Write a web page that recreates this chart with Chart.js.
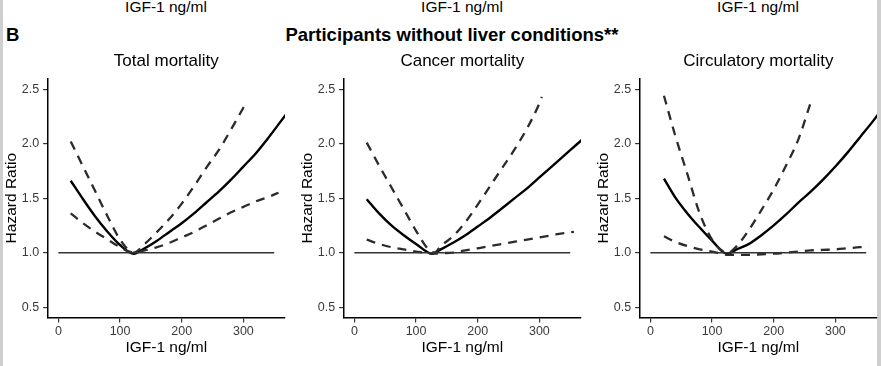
<!DOCTYPE html>
<html>
<head>
<meta charset="utf-8">
<script src="https://cdn.jsdelivr.net/npm/chart.js@4.4.1/dist/chart.umd.min.js"></script>
<style>
  body { margin: 0; background: #fff; }
  #wrap { position: relative; width: 881px; height: 366px; overflow: hidden; background: #fff;
          font-family: "Liberation Sans", Arial, sans-serif; }
  .edge { position: absolute; top: 0; height: 366px; background: #cfcfcf; }
  .lbl { position: absolute; white-space: nowrap; color: #000; }
  canvas { position: absolute; top: 0; }
</style>
</head>
<body>
<div id="wrap">
  <div class="edge" style="left:0;width:3px"></div>
  <div class="edge" style="left:877px;width:4px"></div>

  <!-- remnants of panel A's x axis titles -->
  <div class="lbl" style="left:66px;width:200px;top:-1px;text-align:center;font-size:15.5px;line-height:15.5px">IGF-1 ng/ml</div>
  <div class="lbl" style="left:362px;width:200px;top:-1px;text-align:center;font-size:15.5px;line-height:15.5px">IGF-1 ng/ml</div>
  <div class="lbl" style="left:658px;width:200px;top:-1px;text-align:center;font-size:15.5px;line-height:15.5px">IGF-1 ng/ml</div>

  <div class="lbl" style="left:6px;top:26px;font-size:18.5px;line-height:18.5px;font-weight:bold">B</div>
  <div class="lbl" style="left:252px;width:400px;top:26px;text-align:center;font-size:18.5px;line-height:18.5px;font-weight:bold">Participants without liver conditions**</div>

  <canvas id="c0" width="296" height="366" style="left:0px"></canvas>
  <canvas id="c1" width="296" height="366" style="left:296px"></canvas>
  <canvas id="c2" width="289" height="366" style="left:592px"></canvas>
</div>

<script>
// ---- data ----
const panelTitles = ['Total mortality', 'Cancer mortality', 'Circulatory mortality'];
const xTicks = [0, 100, 200, 300];
const yTicks = [0.5, 1.0, 1.5, 2.0, 2.5];

const refX = [0, 350];
const refHR = [1, 1];

// Total mortality
const totalX = [20, 40, 60, 80, 100, 122, 140, 160, 180, 200, 220, 240, 260, 280, 300, 320, 340, 360, 372];
const totalHR = [1.66, 1.49, 1.33, 1.19, 1.07, 0.99, 1.04, 1.11, 1.19, 1.27, 1.36, 1.46, 1.56, 1.67, 1.79, 1.91, 2.05, 2.20, 2.29];
const totalUpX = [20, 40, 60, 80, 100, 122, 140, 160, 180, 200, 220, 240, 260, 280, 300, 306];
const totalUp = [2.02, 1.79, 1.56, 1.33, 1.12, 1.0, 1.08, 1.19, 1.31, 1.45, 1.61, 1.78, 1.94, 2.13, 2.33, 2.39];
const totalLoX = [20, 40, 60, 80, 100, 122, 140, 160, 180, 200, 220, 240, 260, 280, 300, 320, 340, 357];
const totalLo = [1.36, 1.27, 1.19, 1.12, 1.05, 1.0, 1.02, 1.05, 1.09, 1.14, 1.19, 1.25, 1.31, 1.37, 1.42, 1.47, 1.51, 1.55];

// Cancer mortality
const cancerX = [20, 40, 60, 80, 100, 126, 140, 160, 180, 200, 220, 240, 260, 280, 300, 320, 340, 360, 372];
const cancerHR = [1.49, 1.36, 1.25, 1.16, 1.08, 0.99, 1.03, 1.09, 1.16, 1.24, 1.32, 1.41, 1.50, 1.59, 1.69, 1.79, 1.89, 1.99, 2.05];
const cancerUpX = [20, 40, 60, 80, 100, 120, 130, 140, 160, 180, 200, 220, 240, 260, 280, 300, 304];
const cancerUp = [2.01, 1.80, 1.60, 1.40, 1.20, 1.03, 1.0, 1.06, 1.15, 1.28, 1.44, 1.61, 1.78, 1.95, 2.14, 2.37, 2.43];
const cancerLoX = [20, 40, 60, 80, 100, 130, 140, 160, 180, 200, 220, 240, 260, 280, 300, 320, 340, 356];
const cancerLo = [1.12, 1.08, 1.05, 1.03, 1.01, 0.99, 0.995, 1.0, 1.02, 1.04, 1.06, 1.08, 1.10, 1.12, 1.14, 1.16, 1.18, 1.19];

// Circulatory mortality
const circX = [22, 40, 60, 80, 100, 124, 140, 160, 180, 200, 220, 240, 260, 280, 300, 320, 340, 360, 372];
const circHR = [1.68, 1.51, 1.36, 1.23, 1.11, 0.99, 1.03, 1.08, 1.16, 1.25, 1.35, 1.46, 1.56, 1.67, 1.79, 1.92, 2.06, 2.20, 2.29];
const circUpX = [22, 40, 60, 80, 100, 118, 126, 140, 160, 180, 200, 220, 240, 259];
const circUp = [2.44, 2.08, 1.72, 1.36, 1.12, 1.01, 1.0, 1.06, 1.21, 1.39, 1.58, 1.80, 2.04, 2.36];
const circLoX = [22, 40, 60, 80, 100, 126, 140, 160, 180, 200, 220, 240, 260, 280, 300, 320, 340, 354];
const circLo = [1.15, 1.10, 1.06, 1.03, 1.01, 0.98, 0.98, 0.98, 0.985, 0.99, 1.0, 1.01, 1.02, 1.025, 1.03, 1.04, 1.05, 1.055];

// ---- drawing ----
const FONT = '"Liberation Sans", Arial, sans-serif';
const PLOT_LEFT = 47.6;   // chart area left inside each canvas
const PLOT_RIGHT = 285;   // chart area right inside each canvas
const PLOT_BOTTOM = 318;

const pts = (xs, ys) => xs.map((x, i) => ({ x, y: ys[i] }));

function createPanel(canvasId, title, est, upper, lower) {
    const canvas = document.getElementById(canvasId);
    const dashed = (data) => ({
        data, borderColor: '#2b2b2b', borderWidth: 2.3, borderDash: [9, 7],
        pointRadius: 0, cubicInterpolationMode: 'monotone', fill: false, clip: 0,
    });
    return new Chart(canvas, {
        type: 'line',
        data: {
            datasets: [
                { data: pts(refX, refHR), borderColor: '#333', borderWidth: 1.5, pointRadius: 0, tension: 0, clip: 0 },
                dashed(upper),
                dashed(lower),
                { data: est, borderColor: '#000', borderWidth: 2.4, pointRadius: 0,
                  cubicInterpolationMode: 'monotone', fill: false, clip: 0 },
            ],
        },
        options: {
            responsive: false,
            animation: false,
            layout: { padding: { top: 0, left: 0, bottom: 0, right: canvas.width - PLOT_RIGHT } },
            scales: {
                x: {
                    type: 'linear',
                    min: -17.5,
                    max: 367.5,
                    afterBuildTicks: (s) => { s.ticks = xTicks.map(v => ({ value: v })); },
                    afterFit: (s) => { s.height = 366 - PLOT_BOTTOM; },
                    grid: { drawOnChartArea: false, drawTicks: true, tickLength: 4.5, color: '#333', lineWidth: 1.2 },
                    border: { display: true, color: '#000', width: 1.5 },
                    ticks: { color: '#3a3a3a', padding: 2, maxRotation: 0, font: { family: FONT, size: 12.5 } },
                    title: { display: true, text: 'IGF-1 ng/ml', color: '#000',
                             padding: { top: 0, bottom: 8.7 }, font: { family: FONT, size: 15.5 } },
                },
                y: {
                    type: 'linear',
                    min: 0.4,
                    max: 2.6,
                    afterBuildTicks: (s) => { s.ticks = yTicks.map(v => ({ value: v })); },
                    afterFit: (s) => { s.width = PLOT_LEFT; },
                    grid: { drawOnChartArea: false, drawTicks: true, tickLength: 4.5, color: '#333', lineWidth: 1.2 },
                    border: { display: true, color: '#000', width: 1.5 },
                    ticks: { color: '#3a3a3a', padding: 4, callback: (v) => v.toFixed(1), font: { family: FONT, size: 12.5 } },
                    title: { display: true, text: 'Hazard Ratio', color: '#000',
                             padding: { top: 2, bottom: 0 }, font: { family: FONT, size: 15.5 } },
                },
            },
            plugins: {
                legend: { display: false },
                tooltip: { enabled: false },
                title: {
                    display: true,
                    text: title,
                    fullSize: false,
                    color: '#000',
                    font: { family: FONT, size: 17, weight: 'normal', lineHeight: 1.2 },
                    padding: { top: 51.3, bottom: 6.6 },
                },
            },
        },
    });
}

createPanel('c0', panelTitles[0], pts(totalX, totalHR), pts(totalUpX, totalUp), pts(totalLoX, totalLo));
createPanel('c1', panelTitles[1], pts(cancerX, cancerHR), pts(cancerUpX, cancerUp), pts(cancerLoX, cancerLo));
createPanel('c2', panelTitles[2], pts(circX, circHR), pts(circUpX, circUp), pts(circLoX, circLo));
</script>
</body>
</html>
